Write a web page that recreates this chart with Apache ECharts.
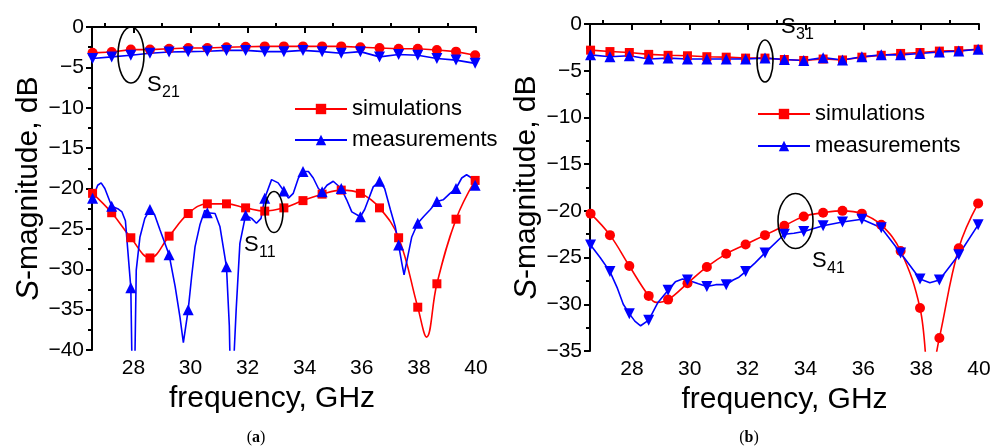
<!DOCTYPE html>
<html lang="en">
<head>
<meta charset="UTF-8">
<title>S-parameters</title>
<style>
  html, body { margin: 0; padding: 0; background: #fff; }
  #chart { width: 1002px; height: 446px; }
</style>
</head>
<body>
<div id="chart"></div>
<script src="https://cdn.jsdelivr.net/npm/echarts@6/dist/echarts.min.js"></script>
<script>
// frequencies (GHz) where the symbols sit, shared by all curves
var markFreq = [26.57, 27.24, 27.91, 28.58, 29.25, 29.92, 30.59, 31.26, 31.93, 32.6, 33.27,
                33.94, 34.61, 35.28, 35.95, 36.62, 37.29, 37.96, 38.63, 39.3, 39.97];
var xTicks = [28, 30, 32, 34, 36, 38, 40];
var xMinorTicks = [27, 29, 31, 33, 35, 37, 39];

// (a) S21, dB at markFreq
var aS21Sim  = [-3.2, -3.1, -2.8, -2.8, -2.7, -2.6, -2.6, -2.5, -2.45, -2.4, -2.4,
                -2.4, -2.4, -2.4, -2.5, -2.6, -2.7, -2.7, -2.85, -3.05, -3.5];
var aS21Meas = [-3.9, -3.7, -3.5, -3.25, -3.1, -3.05, -3.0, -2.9, -2.9, -3.05, -3.05,
                -2.9, -3.05, -3.25, -3.05, -3.7, -3.4, -3.5, -3.9, -4.1, -4.5];
// (a) S11 simulation at markFreq, plus curve points between symbols
var aS11Sim  = [-20.6, -23.0, -26.1, -28.6, -25.9, -23.1, -21.9, -21.9, -22.4, -22.8, -22.4,
                -21.5, -20.7, -20.2, -20.6, -22.4, -26.1, -34.7, -31.8, -23.8, -19.0];
var aS11SimExtra = [[38.27, -38.4]];
// (a) S11 measurement: [GHz, dB, symbol?]
var aS11Meas = [
  [26.57,-21.2,1],[26.75,-19.6],[26.87,-19.3],[27.0,-20.0],[27.24,-22.2,1],[27.45,-22.5],
  [27.6,-22.9],[27.72,-24.0],[27.91,-32.3,1],[27.96,-44],[28.04,-44],[28.1,-30.1],
  [28.23,-26.0],[28.4,-23.7],[28.58,-22.6,1],[28.75,-23.3],[28.93,-25.1],[29.25,-28.2,1],
  [29.46,-32.1],[29.63,-35.9],[29.75,-39.1],[29.92,-35.0,1],[30.04,-30.9],[30.16,-27.2],
  [30.33,-24.5],[30.5,-22.7],[30.59,-23.0,1],[30.86,-23.1],[31.03,-24.7],[31.26,-29.7,1],
  [31.36,-37.0],[31.4,-44],[31.48,-44],[31.6,-35.0],[31.73,-26.8],[31.93,-23.3,1],
  [32.14,-23.7],[32.31,-24.3],[32.47,-23.7],[32.6,-21.2,1],[32.84,-18.9],[33.07,-19.3],
  [33.27,-20.3,1],[33.43,-21.2],[33.6,-20.6],[33.78,-18.7],[33.94,-17.9,1],[34.13,-17.9],
  [34.3,-18.7],[34.48,-20.0],[34.61,-20.4,1],[34.78,-19.6],[35.0,-19.1],[35.28,-20.0,1],
  [35.47,-21.4],[35.65,-22.9],[35.95,-23.5,1],[36.1,-22.6],[36.23,-21.4],[36.4,-19.8],
  [36.62,-19.1,1],[36.8,-20.0],[37.0,-22.6],[37.17,-24.7],[37.29,-27.0,1],[37.4,-29.2],
  [37.48,-30.7],[37.6,-28.6],[37.75,-26.0],[37.96,-24.3,1],[38.16,-23.5],[38.4,-22.6],
  [38.63,-21.6,1],[38.85,-21.4],[39.09,-20.6],[39.3,-20.0,1],[39.5,-18.7],[39.67,-18.3],
  [39.85,-18.7],[39.97,-19.6,1]
];

// (b) S31 at markFreq
var bS31Sim  = [-2.8, -2.95, -3.05, -3.25, -3.35, -3.4, -3.5, -3.55, -3.65, -3.65, -3.8,
                -3.9, -3.75, -3.85, -3.55, -3.35, -3.15, -3.05, -2.9, -2.85, -2.7];
var bS31Meas = [-3.3, -3.5, -3.4, -3.75, -3.65, -3.75, -3.75, -3.75, -3.75, -3.65, -3.8,
                -3.9, -3.6, -3.85, -3.5, -3.3, -3.3, -3.15, -3.0, -2.9, -2.7];
// (b) S41 simulation
var bS41Sim  = [-20.3, -22.6, -25.9, -29.1, -29.5, -27.75, -26.0, -24.6, -23.6, -22.6, -21.6,
                -20.6, -20.2, -20.0, -20.3, -21.5, -24.3, -30.4, -33.6, -24.0, -19.2];
var bS41SimExtra = [[28.85, -29.8], [38.3, -38.0]];
// (b) S41 measurement: [GHz, dB, symbol?]
var bS41Meas = [
  [26.57,-23.65,1],[26.9,-25.0],[27.24,-26.5,1],[27.5,-28.3],[27.7,-30.0],[27.91,-31.0,1],
  [28.1,-31.8],[28.3,-32.3],[28.58,-31.7,1],[28.9,-29.8],[29.25,-28.5,1],[29.5,-27.6],
  [29.75,-27.3],[29.92,-27.4,1],[30.3,-27.8],[30.59,-28.1,1],[30.9,-27.9],[31.26,-27.9,1],
  [31.5,-27.4],[31.7,-27.1],[31.93,-26.5,1],[32.25,-25.6],[32.6,-24.5,1],[33.27,-22.5,1],
  [33.6,-22.4],[33.94,-22.2,1],[34.61,-21.6,1],[35.28,-21.2,1],[35.95,-20.9,1],
  [36.62,-21.8,1],[37.29,-24.5,1],[37.96,-27.3,1],[38.3,-27.7],[38.63,-27.4,1],
  [39.3,-24.7,1],[39.97,-21.5,1]
];

var RED = '#ff0000', BLUE = '#0000ff';
var FONT = '"Liberation Sans", Arial, sans-serif';

function onMarks(values, extra) {
    var pts = values.map(function (v, i) { return { value: [markFreq[i], v] }; });
    (extra || []).forEach(function (p) { pts.push({ value: p, symbol: 'none' }); });
    pts.sort(function (a, b) { return a.value[0] - b.value[0]; });
    return pts;
}
function flagged(rows) {
    return rows.map(function (r) {
        return r[2] ? { value: [r[0], r[1]] } : { value: [r[0], r[1]], symbol: 'none' };
    });
}
function curve(name, data, panel, color, symbol, size, rotate, smooth) {
    return {
        name: name, type: 'line', data: data,
        xAxisIndex: panel * 2, yAxisIndex: panel,
        symbol: symbol, symbolSize: size, symbolRotate: rotate || 0,
        showAllSymbol: true, smooth: smooth || false,
        lineStyle: { color: color, width: 1.6 },
        itemStyle: { color: color },
        animation: false
    };
}

function xAxes(grid) {
    return [{
        type: 'value', gridIndex: grid, min: 26.55, max: 40,
        name: 'frequency, GHz', nameLocation: 'middle', nameGap: 27,
        nameTextStyle: { fontSize: 30, color: '#000', fontFamily: FONT, padding: grid === 0 ? [0, 24, 0, 0] : 0 },
        axisLine: { lineStyle: { color: '#000', width: 2 } },
        axisTick: { customValues: xTicks, length: 6, lineStyle: { color: '#000', width: 2 } },
        axisLabel: { customValues: xTicks, fontSize: 21, color: '#000', fontFamily: FONT, margin: 8 },
        splitLine: { show: false }
    }, {
        type: 'value', gridIndex: grid, min: 26.55, max: 40,
        axisLine: { show: false },
        axisTick: { customValues: xMinorTicks, length: 4, lineStyle: { color: '#000', width: 2 } },
        axisLabel: { show: false },
        splitLine: { show: false }
    }];
}
function yAxis(grid, min) {
    return {
        type: 'value', gridIndex: grid, min: min, max: 0, interval: 5,
        name: '{it|S}-magnitude, dB', nameLocation: 'middle', nameRotate: 90, nameGap: 47,
        nameTextStyle: {
            fontSize: 30, color: '#000', fontFamily: FONT,
            rich: { it: { fontSize: 31, fontStyle: 'italic', color: '#000', fontFamily: FONT } }
        },
        axisLine: { show: true, lineStyle: { color: '#000', width: 2 } },
        axisTick: { show: true, length: 6, lineStyle: { color: '#000', width: 2 } },
        minorTick: { show: true, splitNumber: 2, length: 4, lineStyle: { color: '#000', width: 2 } },
        axisLabel: {
            fontSize: 21, color: '#000', fontFamily: FONT, margin: 8,
            formatter: function (v) { return String(v).replace('-', '\u2212'); }
        },
        splitLine: { show: false }
    };
}

function legend(left, top, gap) {
    return {
        data: ['simulations', 'measurements'], orient: 'vertical',
        left: left, top: top, itemWidth: 52, itemHeight: 13, itemGap: gap,
        selectedMode: false,
        textStyle: { fontSize: 22, color: '#000', fontFamily: FONT }
    };
}

function ellipse(cx, cy, rx, ry) {
    return { type: 'ellipse', shape: { cx: cx, cy: cy, rx: rx, ry: ry },
             style: { fill: 'none', stroke: '#000', lineWidth: 1.6 }, z: 100 };
}
function sLabel(x, y, sub) {
    return [
        { type: 'text', x: x, y: y, z: 100,
          style: { text: 'S', fill: '#000', font: '22px ' + FONT, align: 'left', verticalAlign: 'middle' } },
        { type: 'text', x: x + 15, y: y + 8, z: 100,
          style: { text: sub, fill: '#000', font: '16px ' + FONT, align: 'left', verticalAlign: 'middle' } }
    ];
}
function caption(cx, letter) {
    return { type: 'text', x: cx, y: 438, z: 100,
             style: { text: '({b|' + letter + '})', fill: '#000', font: '16px "Liberation Serif", serif',
                      align: 'center', verticalAlign: 'middle',
                      rich: { b: { fontWeight: 'bold', fontSize: 16, fontFamily: '"Liberation Serif", serif' } } } };
}

var chart = echarts.init(document.getElementById('chart'), null, { renderer: 'canvas' });
chart.setOption({
    backgroundColor: '#fff',
    animation: false,
    grid: [
        { left: 92, top: 27, width: 384, height: 323 },
        { left: 590, top: 24, width: 389, height: 327 }
    ],
    xAxis: xAxes(0).concat(xAxes(1)),
    yAxis: [yAxis(0, -40), yAxis(1, -35)],
    legend: [legend(289, 93, 9), legend(752, 98, 10)],
    series: [
        curve('simulations', onMarks(aS11Sim, aS11SimExtra), 0, RED, 'rect', 9, 0, 0.4),
        curve('measurements', flagged(aS11Meas), 0, BLUE, 'triangle', 11, 0, false),
        curve('simulations', onMarks(aS21Sim), 0, RED, 'circle', 10, 0, false),
        curve('measurements', onMarks(aS21Meas), 0, BLUE, 'triangle', 11, 180, false),
        curve('simulations', onMarks(bS31Sim), 1, RED, 'rect', 9, 0, false),
        curve('measurements', onMarks(bS31Meas), 1, BLUE, 'triangle', 11, 0, false),
        curve('simulations', onMarks(bS41Sim, bS41SimExtra), 1, RED, 'circle', 10, 0, 0.4),
        curve('measurements', flagged(bS41Meas), 1, BLUE, 'triangle', 11, 180, false)
    ],
    graphic: [
        ellipse(131, 55, 13, 28),
        ellipse(274, 212, 9, 20.5),
        ellipse(765, 61, 8, 21),
        ellipse(795.5, 221, 17.5, 27.5),
        caption(256, 'a'),
        caption(749, 'b')
    ].concat(sLabel(147, 85, '21'), sLabel(244, 245, '11'), sLabel(781, 27, '31'), sLabel(812, 261, '41'))
});
</script>
</body>
</html>
